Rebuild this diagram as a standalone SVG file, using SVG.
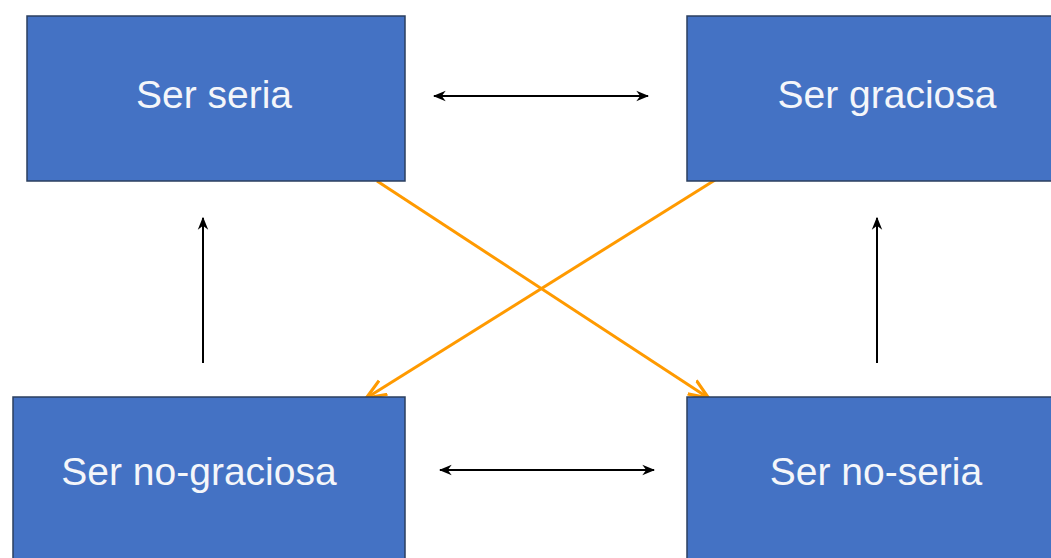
<svg xmlns="http://www.w3.org/2000/svg" width="1051" height="558" viewBox="0 0 1051 558">
<style>
.box{fill:#4472C4;stroke:#2B3F5F;stroke-width:1.5}
.lbl{fill:#F4F6FA;font-family:"Liberation Sans",Arial,sans-serif;font-size:39px;text-anchor:middle}
.blk{stroke:#000;stroke-width:2;fill:none}
.org{stroke:#FF9A00;stroke-width:3;fill:none}
</style>
<defs>
<marker id="ab" viewBox="0 0 10 10" refX="9" refY="5" markerWidth="13" markerHeight="13" markerUnits="userSpaceOnUse" orient="auto-start-reverse"><path d="M0,1 L10,5 L0,9 L3,5 z" fill="#000"/></marker>
<marker id="ao" viewBox="0 0 10 10" refX="9" refY="5" markerWidth="20" markerHeight="20" markerUnits="userSpaceOnUse" orient="auto"><path d="M0,1 L10,5 L0,9" fill="none" stroke="#FF9A00" stroke-width="1.6"/></marker>
</defs>
<rect width="1051" height="558" fill="#fff"/>
<g id="connectors">
<line class="blk" x1="434" y1="96" x2="648" y2="96" marker-start="url(#ab)" marker-end="url(#ab)"/>
<line class="blk" x1="440" y1="470" x2="654" y2="470" marker-start="url(#ab)" marker-end="url(#ab)"/>
<line class="blk" x1="203" y1="363" x2="203" y2="218" marker-end="url(#ab)"/>
<line class="blk" x1="877" y1="363" x2="877" y2="218" marker-end="url(#ab)"/>
<line class="org" x1="377" y1="181" x2="707" y2="397" marker-end="url(#ao)"/>
<line class="org" x1="715" y1="180" x2="368" y2="397" marker-end="url(#ao)"/>
</g>
<g id="node-ser-seria"><rect class="box" x="27" y="16" width="378" height="165"/><text class="lbl" x="214" y="108">Ser seria</text></g>
<g id="node-ser-graciosa"><rect class="box" x="687" y="16" width="370" height="165"/><text class="lbl" x="887" y="108">Ser graciosa</text></g>
<g id="node-ser-no-graciosa"><rect class="box" x="13" y="397" width="392" height="170"/><text class="lbl" x="199" y="485">Ser no-graciosa</text></g>
<g id="node-ser-no-seria"><rect class="box" x="687" y="397" width="370" height="170"/><text class="lbl" x="876" y="485">Ser no-seria</text></g>
</svg>
